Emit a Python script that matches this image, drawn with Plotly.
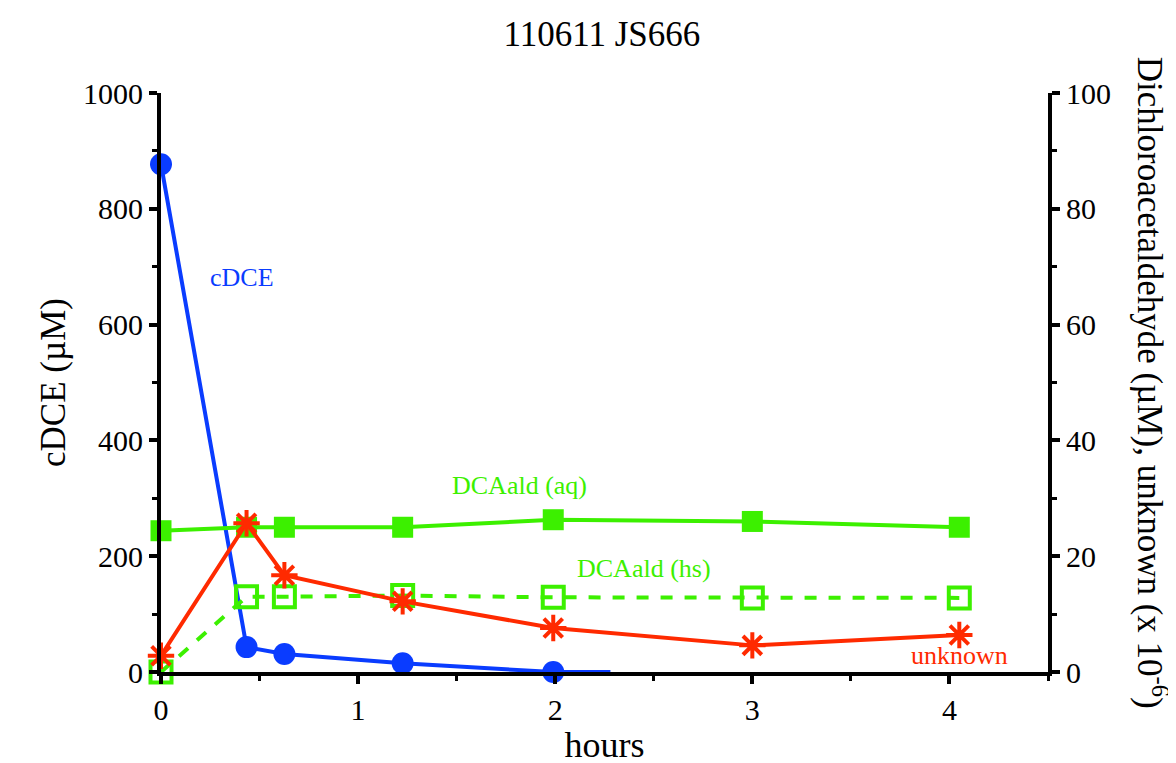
import plotly.graph_objects as go

# ---- data ----
t_cdce = [0, 0.434, 0.626, 1.226, 1.99, 2.28]
cdce = [877, 43, 31, 15, 0, 0]           # left axis (µM)
cdce_marker_sizes = [22, 22, 22, 22, 22, 0]

t_ald = [0, 0.434, 0.626, 1.226, 1.99, 3.0, 4.05]
ald_aq = [24.4, 25.0, 25.0, 25.0, 26.3, 26.0, 25.0]   # right axis
ald_hs = [0.0, 13.0, 13.0, 13.2, 12.9, 12.8, 12.8]    # right axis
unknown = [2.8, 25.7, 16.7, 12.2, 7.6, 4.6, 6.4]       # right axis

x_ticks = [0, 1, 2, 3, 4]
y_left_ticks = [0, 200, 400, 600, 800, 1000]
y_right_ticks = [0, 20, 40, 60, 80, 100]

BLUE = "#0a3cff"
GREEN = "#3cf000"
RED = "#ff2a00"
FONT = "Liberation Serif"

fig = go.Figure()
fig.add_trace(go.Scatter(x=t_cdce, y=cdce, mode="lines+markers",
                         line=dict(color=BLUE, width=4),
                         marker=dict(symbol="circle", size=cdce_marker_sizes, color=BLUE,
                                     opacity=1, line=dict(width=0)),
                         yaxis="y", cliponaxis=False))
fig.add_trace(go.Scatter(x=t_ald, y=ald_aq, mode="lines+markers",
                         line=dict(color=GREEN, width=4),
                         marker=dict(symbol="square", size=21, color=GREEN, opacity=1,
                                     line=dict(width=0)),
                         yaxis="y2", cliponaxis=False))
fig.add_trace(go.Scatter(x=t_ald, y=ald_hs, mode="lines+markers",
                         line=dict(color=GREEN, width=4, dash="dash"),
                         marker=dict(symbol="square-open", size=21, color=GREEN, opacity=1,
                                     line=dict(width=4, color=GREEN)),
                         yaxis="y2", cliponaxis=False))
fig.add_trace(go.Scatter(x=t_ald, y=unknown, mode="lines+markers",
                         line=dict(color=RED, width=4),
                         marker=dict(symbol="asterisk-open", size=22, color=RED, opacity=1,
                                     line=dict(width=4, color=RED)),
                         yaxis="y2", cliponaxis=False))

axis_common = dict(showgrid=False, zeroline=False, showline=True, linecolor="black",
                   linewidth=4, ticks="outside", ticklen=8, tickwidth=4,
                   tickcolor="black", tickfont=dict(family=FONT, size=30, color="black"))

fig.update_layout(
    width=1176, height=763,
    margin=dict(l=153, r=136, t=85, b=88),
    plot_bgcolor="white", paper_bgcolor="white",
    showlegend=False,
    title=dict(text="110611 JS666", x=0.505, xanchor="center", y=0.966, yanchor="middle",
               font=dict(family=FONT, size=35, color="black")),
    xaxis=dict(range=[0, 4.5], tickvals=x_ticks,
               title=dict(text="hours", font=dict(family=FONT, size=36, color="black"), standoff=8),
               minor=dict(dtick=0.5, ticks="outside", ticklen=5, tickwidth=3, tickcolor="black"),
               **axis_common),
    yaxis=dict(range=[0, 1000], tickvals=y_left_ticks,
               title=dict(text="cDCE (µM)", font=dict(family=FONT, size=35, color="black"), standoff=8),
               minor=dict(dtick=100, ticks="outside", ticklen=5, tickwidth=3, tickcolor="black"),
               **axis_common),
    yaxis2=dict(range=[0, 100], tickvals=y_right_ticks, overlaying="y", side="right",
                minor=dict(dtick=10, ticks="outside", ticklen=5, tickwidth=3, tickcolor="black"),
                **axis_common),
)

# right axis title (reads top to bottom)
fig.add_annotation(xref="paper", yref="paper", x=1.117, y=0.5, xanchor="center", yanchor="middle",
                   text="Dichloroacetaldehyde (µM), unknown (x 10<sup>-6</sup>)",
                   textangle=90, showarrow=False,
                   font=dict(family=FONT, size=35, color="black"))

# series labels
fig.add_annotation(x=0.41, y=681, xref="x", yref="y", text="cDCE", showarrow=False,
                   font=dict(family=FONT, size=26, color=BLUE))
fig.add_annotation(x=1.82, y=32.2, xref="x", yref="y2", text="DCAald (aq)", showarrow=False,
                   font=dict(family=FONT, size=26, color=GREEN))
fig.add_annotation(x=2.45, y=17.8, xref="x", yref="y2", text="DCAald (hs)", showarrow=False,
                   font=dict(family=FONT, size=26, color=GREEN))
fig.add_annotation(x=4.05, y=2.9, xref="x", yref="y2", text="unknown", showarrow=False,
                   font=dict(family=FONT, size=26, color=RED))

fig.write_html("out.html")
